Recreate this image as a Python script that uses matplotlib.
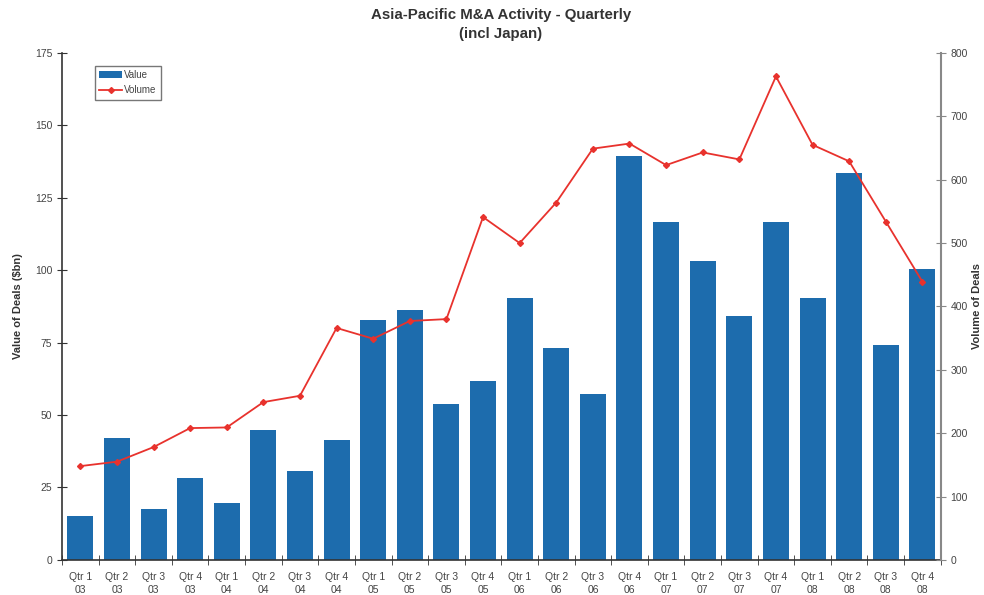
import numpy as np
import matplotlib.pyplot as plt
from matplotlib.ticker import FixedLocator, NullFormatter

plt.rcParams['font.family'] = ['Liberation Sans', 'DejaVu Sans']

# data
quarters = ['Qtr 1', 'Qtr 2', 'Qtr 3', 'Qtr 4'] * 6
years = ['03'] * 4 + ['04'] * 4 + ['05'] * 4 + ['06'] * 4 + ['07'] * 4 + ['08'] * 4
value_bn = [15.1, 42.0, 17.5, 28.2, 19.6, 44.7, 30.6, 41.3,
            82.9, 86.3, 53.7, 61.6, 90.5, 73.3, 57.1, 139.3,
            116.6, 103.2, 84.3, 116.6, 90.5, 133.5, 74.3, 100.4]
volume = [148, 155, 178, 208, 209, 249, 259, 366,
          349, 377, 380, 541, 500, 564, 649, 657,
          623, 643, 632, 763, 655, 629, 534, 439]

labels = [q + '\n' + y for q, y in zip(quarters, years)]
x = np.arange(len(labels))

bar_color = '#1d6cad'
line_color = '#e8322d'
text_color = '#444444'

fig = plt.figure(figsize=(9.84, 5.95), dpi=100)
ax = fig.add_axes([0.063, 0.059, 0.893, 0.852])
ax2 = ax.twinx()

bars = ax.bar(x, value_bn, width=0.71, color=bar_color, label='Value', zorder=2)
line, = ax2.plot(x, volume, color=line_color, lw=1.3, marker='D', markersize=3,
                 label='Volume', zorder=3)

ax.set_xlim(-0.5, len(labels) - 0.5)
ax.set_ylim(0, 175)
ax2.set_ylim(0, 800)
ax.set_yticks(np.arange(0, 176, 25))
ax2.set_yticks(np.arange(0, 801, 100))

# category labels in the middle, tick marks on the boundaries
ax.set_xticks(x)
ax.set_xticklabels(labels, fontsize=7.5, color=text_color, linespacing=1.3)
ax.xaxis.set_minor_locator(FixedLocator(np.arange(-0.5, len(labels), 1)))
ax.xaxis.set_minor_formatter(NullFormatter())
ax.tick_params(axis='x', which='major', length=0, pad=9)
ax.tick_params(axis='x', which='minor', direction='inout', length=7, color='#333333')

ax.tick_params(axis='y', direction='inout', length=7, labelsize=7.5,
               labelcolor=text_color, color='#333333')
ax2.tick_params(axis='y', direction='inout', length=7, labelsize=7.5,
                labelcolor=text_color, color='#888888')

for a in (ax, ax2):
    a.spines['top'].set_visible(False)
ax.spines['right'].set_visible(False)
ax2.spines['left'].set_visible(False)
ax2.spines['bottom'].set_visible(False)
ax2.spines['right'].set_color('#888888')
ax2.spines['right'].set_linewidth(1.5)
ax.spines['left'].set_color('#333333')
ax.spines['bottom'].set_color('#333333')
ax.spines['left'].set_linewidth(1.2)
ax.spines['bottom'].set_linewidth(1.2)

# axis titles placed by hand so the right one stays inside the figure
fig.text(18 / 984, 0.485, 'Value of Deals ($bn)', rotation=90, ha='center', va='center',
         fontsize=8, fontweight='bold', color='#333333')
fig.text(977 / 984, 0.485, 'Volume of Deals', rotation=90, ha='center', va='center',
         fontsize=8, fontweight='bold', color='#333333')

fig.text(0.509, 0.986, 'Asia-Pacific M&A Activity - Quarterly\n(incl Japan)',
         ha='center', va='top', fontsize=10.8, fontweight='bold', color='#333333',
         linespacing=1.4)

leg = ax.legend([bars, line], ['Value', 'Volume'], loc='upper left',
                bbox_to_anchor=(0.037, 0.975), fontsize=7, frameon=True,
                fancybox=False, edgecolor='#555555', handlelength=2.4,
                handletextpad=0.2, borderpad=0.45, labelspacing=0.55, borderaxespad=0)
leg.get_frame().set_linewidth(1.0)
for t in leg.get_texts():
    t.set_color(text_color)

fig.savefig('out.png', dpi=100)
